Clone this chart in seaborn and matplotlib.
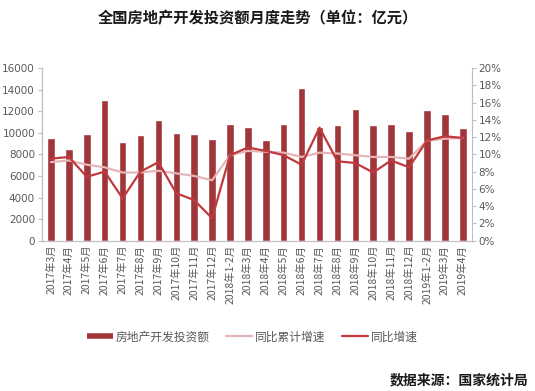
import matplotlib
matplotlib.use('Agg')
import numpy as np
import pandas as pd
import matplotlib.pyplot as plt
import seaborn as sns
from matplotlib.lines import Line2D
from matplotlib.ticker import FixedLocator

sns.set_style('white')
plt.rcParams['font.family'] = ['Noto Sans CJK SC', 'DejaVu Sans']

# data
months = ['2017年3月', '2017年4月', '2017年5月', '2017年6月', '2017年7月', '2017年8月',
          '2017年9月', '2017年10月', '2017年11月', '2017年12月', '2018年1-2月', '2018年3月',
          '2018年4月', '2018年5月', '2018年6月', '2018年7月', '2018年8月', '2018年9月',
          '2018年10月', '2018年11月', '2018年12月', '2019年1-2月', '2019年3月', '2019年4月']
investment = [9480, 8480, 9900, 13050, 9180, 9800, 11200, 9950, 9900, 9420, 10830, 10520,
              9310, 10850, 14120, 10560, 10680, 12190, 10680, 10800, 10210, 12100, 11720, 10460]
cum_growth = [9.1, 9.3, 8.8, 8.5, 7.9, 7.9, 8.1, 7.8, 7.5, 7.0, 9.9, 10.4,
              10.3, 10.2, 9.7, 10.2, 10.1, 9.9, 9.7, 9.7, 9.5, 11.6, 11.8, 11.9]
yoy_growth = [9.5, 9.7, 7.4, 8.0, 4.9, 8.0, 9.1, 5.5, 4.7, 2.6, 9.9, 10.8,
              10.4, 9.9, 8.8, 13.1, 9.2, 9.0, 7.9, 9.3, 8.5, 11.6, 12.1, 11.9]
left_ticks = [0, 2000, 4000, 6000, 8000, 10000, 12000, 14000, 16000]
right_ticks = [0, 2, 4, 6, 8, 10, 12, 14, 16, 18, 20]

BAR_COLOR = '#a0353a'
CUM_COLOR = '#e6b5b7'
YOY_COLOR = '#c0393d'
AXIS_COLOR = '#bfbfbf'
TEXT_COLOR = '#595959'

df = pd.DataFrame({'month': months, 'investment': investment,
                   'cum': cum_growth, 'yoy': yoy_growth})

fig = plt.figure(figsize=(5.35, 3.91), dpi=100)
ax = fig.add_axes([0.0785, 0.3844, 0.8032, 0.4416])

sns.barplot(data=df, x='month', y='investment', color=BAR_COLOR, width=0.42,
            saturation=1, ax=ax)
ax.set_ylim(0, 16000)
ax.set_yticks(left_ticks)
ax.set_yticklabels([str(t) for t in left_ticks], family='DejaVu Sans', fontsize=7.5,
                   color=TEXT_COLOR)
ax.set_xlim(-0.5, len(months) - 0.5)
ax.set_xlabel('')
ax.set_ylabel('')

# growth rates on the right-hand axis
ax2 = ax.twinx()
sns.lineplot(x=np.arange(len(months)), y=df['cum'], color=CUM_COLOR, linewidth=1.6,
             sort=False, solid_joinstyle='round', ax=ax2)
sns.lineplot(x=np.arange(len(months)), y=df['yoy'], color=YOY_COLOR, linewidth=1.6,
             sort=False, solid_joinstyle='round', ax=ax2)
ax2.set_ylim(0, 20)
ax2.set_yticks(right_ticks)
ax2.set_yticklabels([f'{t}%' for t in right_ticks], family='DejaVu Sans', fontsize=7.5,
                    color=TEXT_COLOR)
ax2.set_ylabel('')
ax2.set_xlim(-0.5, len(months) - 0.5)

ax.set_xticks(range(len(months)))
ax.set_xticklabels(months, rotation=90, fontsize=7.5, color=TEXT_COLOR)
ax.xaxis.set_minor_locator(FixedLocator(np.arange(-0.5, len(months), 1.0)))
ax.tick_params(axis='x', which='major', length=0, pad=3)
ax.tick_params(axis='x', which='minor', length=3, color=AXIS_COLOR, direction='out')
ax.tick_params(axis='y', length=3, color=AXIS_COLOR, direction='out', left=True, pad=2)
ax2.tick_params(axis='y', length=3, color=AXIS_COLOR, direction='out', right=True, pad=2)

for a in (ax, ax2):
    a.spines['top'].set_visible(False)
    for s in ('left', 'right', 'bottom'):
        a.spines[s].set_color(AXIS_COLOR)
        a.spines[s].set_linewidth(0.8)
ax.spines['right'].set_visible(False)

fig.text(0.482, 0.953, '全国房地产开发投资额月度走势（单位：亿元）', ha='center', va='center',
         fontsize=11, fontweight='bold', color='#1a1a1a')

handles = [Line2D([], [], color=BAR_COLOR, linewidth=4, solid_capstyle='butt'),
           Line2D([], [], color=CUM_COLOR, linewidth=1.6),
           Line2D([], [], color=YOY_COLOR, linewidth=1.6)]
labels = ['房地产开发投资额', '同比累计增速', '同比增速']
fig.legend(handles, labels, loc='center', bbox_to_anchor=(0.472, 0.138), ncol=3,
           frameon=False, fontsize=8.5, handlelength=2.2, handletextpad=0.25,
           columnspacing=1.4, labelcolor=TEXT_COLOR)

fig.text(0.987, 0.027, '数据来源：国家统计局', ha='right', va='center', fontsize=10,
         fontweight='bold', color='#1a1a1a')

fig.savefig('out.png', dpi=100, facecolor='white')
